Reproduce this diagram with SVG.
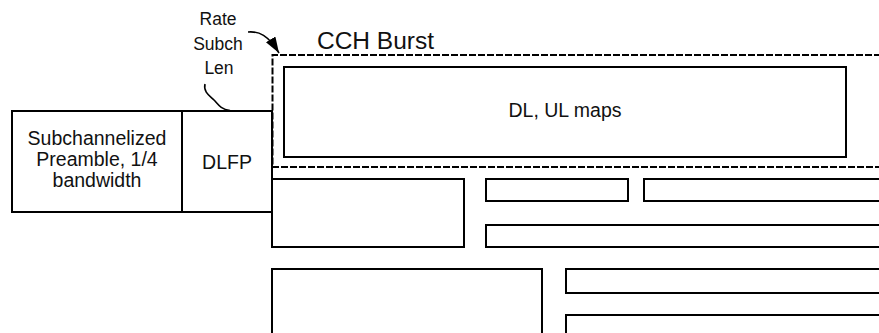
<svg xmlns="http://www.w3.org/2000/svg" width="879" height="333" viewBox="0 0 879 333">
<style>
.box{fill:none;stroke:#000;stroke-width:2}
.dash{fill:none;stroke:#000;stroke-width:2;stroke-dasharray:7 2}
.conn{fill:none;stroke:#000;stroke-width:1.6}
.t{font-family:"Liberation Sans",Arial,sans-serif;fill:#111;text-anchor:middle}
.m{font-size:19.5px}
.s{font-size:17.5px}
</style>
<defs>
<marker id="ah" markerUnits="userSpaceOnUse" markerWidth="17" markerHeight="12" refX="16" refY="5.5" orient="auto">
<path d="M0,0 L16,5.5 L0,11 z" fill="#000"/>
</marker>
</defs>
<rect width="879" height="333" fill="#fff"/>
<g id="cch-burst">
<path class="dash" d="M890,55 H272.5 V167 H890"/>
<text class="t" x="375.5" y="48.5" style="font-size:24.5px">CCH Burst</text>
</g>
<g id="dl-ul-maps">
<rect class="box" x="284" y="67" width="562" height="90"/>
<text class="t m" x="565" y="117">DL, UL maps</text>
</g>
<g id="preamble">
<rect class="box" x="12" y="111" width="170" height="101"/>
<text class="t m" x="97" y="145">Subchannelized</text>
<text class="t m" x="97" y="166">Preamble, 1/4</text>
<text class="t m" x="97" y="187">bandwidth</text>
</g>
<g id="dlfp">
<rect class="box" x="182" y="111" width="90" height="101"/>
<text class="t m" x="227" y="168.5">DLFP</text>
</g>
<g id="label-rate">
<text class="t s" x="218" y="25">Rate</text>
<text class="t s" x="218" y="49.5">Subch</text>
<text class="t s" x="219" y="74">Len</text>
</g>
<g id="burst-row1">
<rect class="box" x="272" y="179" width="192" height="68"/>
<rect class="box" x="486" y="179" width="142" height="22"/>
<rect class="box" x="644" y="179" width="246" height="22"/>
<rect class="box" x="486" y="225" width="404" height="22"/>
</g>
<g id="burst-row2">
<rect class="box" x="272" y="269" width="270" height="80"/>
<rect class="box" x="566" y="269" width="324" height="24"/>
<rect class="box" x="566" y="315" width="324" height="34"/>
</g>
<g id="connectors">
<path class="conn" d="M205,84 C203,92 210,96 214,100 C218,104 220,109 230,110.5"/>
<path class="conn" d="M248,32 C259,31 268,35 279,53" marker-end="url(#ah)"/>
</g>
</svg>
